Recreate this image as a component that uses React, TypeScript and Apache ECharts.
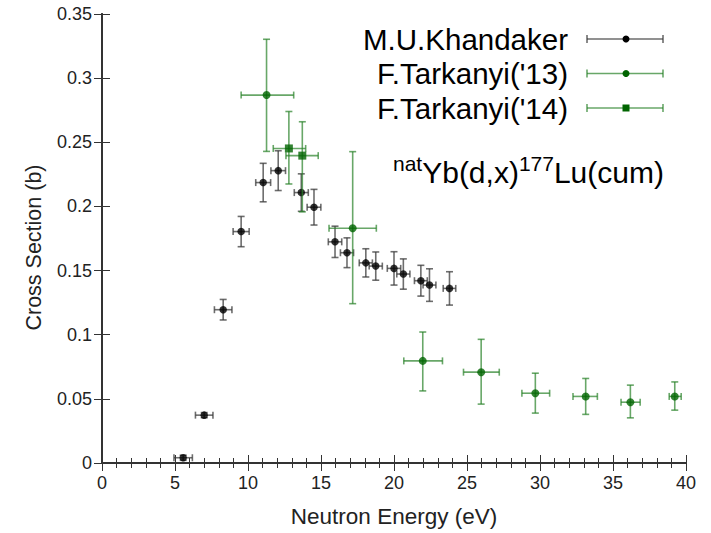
import React, { useEffect, useRef } from "react";
import * as echarts from "echarts";

// M.U.Khandaker
const khX = [5.56, 7.0, 8.3, 9.53, 11.04, 12.07, 13.65, 14.52, 15.96, 16.78, 18.07, 18.75, 20.0, 20.64, 21.84, 22.43, 23.8];
const khY = [0.0041, 0.0373, 0.1195, 0.1804, 0.2186, 0.2279, 0.2108, 0.1994, 0.1724, 0.1639, 0.156, 0.1535, 0.1517, 0.1473, 0.1421, 0.1387, 0.1361];
const khXErr = [0.63, 0.6, 0.6, 0.55, 0.51, 0.5, 0.48, 0.47, 0.46, 0.45, 0.45, 0.45, 0.46, 0.45, 0.44, 0.44, 0.43];
const khYErr = [0.002, 0.002, 0.008, 0.0118, 0.015, 0.0155, 0.0146, 0.0139, 0.0122, 0.0116, 0.011, 0.011, 0.013, 0.0118, 0.012, 0.0127, 0.013];

// F.Tarkanyi('13)
const t13X = [11.27, 17.17, 21.97, 25.97, 29.68, 33.13, 36.19, 39.23];
const t13Y = [0.2868, 0.183, 0.0796, 0.0708, 0.0544, 0.0519, 0.0474, 0.0519];
const t13XLo = [9.53, 15.55, 20.67, 24.76, 28.76, 32.26, 35.55, 38.85];
const t13XHi = [13.13, 18.79, 23.32, 27.21, 30.66, 33.93, 36.86, 39.67];
const t13YLo = [0.2429, 0.1242, 0.0562, 0.0459, 0.0389, 0.0379, 0.0352, 0.0412];
const t13YHi = [0.3303, 0.2427, 0.1021, 0.0964, 0.07, 0.0659, 0.0607, 0.0632];

// F.Tarkanyi('14)
const t14X = [12.8, 13.72];
const t14Y = [0.2452, 0.2396];
const t14XLo = [11.73, 12.6];
const t14XHi = [13.95, 14.81];
const t14YLo = [0.2175, 0.1958];
const t14YHi = [0.274, 0.266];

const seriesNames = ["M.U.Khandaker", "F.Tarkanyi('13)", "F.Tarkanyi('14)"];
const xTicks = { min: 0, max: 40, interval: 5 };
const yTicks = { min: 0, max: 0.35, interval: 0.05 };

const FONT = "Liberation Sans, Arial, sans-serif";
const BLACK = "#000000";
const BLACK_BAR = "rgba(60,60,60,0.75)";
const GREEN = "#006400";
const GREEN_BAR = "rgba(40,130,40,0.7)";

function errRows(x: number[], y: number[], xlo: number[], xhi: number[], ylo: number[], yhi: number[]) {
  return x.map((v, i) => [v, y[i], xlo[i], xhi[i], ylo[i], yhi[i]]);
}

const khRows = errRows(
  khX,
  khY,
  khX.map((v, i) => v - khXErr[i]),
  khX.map((v, i) => v + khXErr[i]),
  khY.map((v, i) => v - khYErr[i]),
  khY.map((v, i) => v + khYErr[i])
);
const t13Rows = errRows(t13X, t13Y, t13XLo, t13XHi, t13YLo, t13YHi);
const t14Rows = errRows(t14X, t14Y, t14XLo, t14XHi, t14YLo, t14YHi);

function makeErrRender(color: string) {
  return (params: any, api: any) => {
    const xlo = api.value(2), xhi = api.value(3), ylo = api.value(4), yhi = api.value(5);
    const x = api.value(0), y = api.value(1);
    const pL = api.coord([xlo, y]);
    const pR = api.coord([xhi, y]);
    const pB = api.coord([x, ylo]);
    const pT = api.coord([x, yhi]);
    const c = 3.5;
    const style = { stroke: color, lineWidth: 1.6, fill: null };
    return {
      type: "group",
      children: [
        { type: "line", shape: { x1: pL[0], y1: pL[1], x2: pR[0], y2: pR[1] }, style },
        { type: "line", shape: { x1: pB[0], y1: pB[1], x2: pT[0], y2: pT[1] }, style },
        { type: "line", shape: { x1: pL[0], y1: pL[1] - c, x2: pL[0], y2: pL[1] + c }, style },
        { type: "line", shape: { x1: pR[0], y1: pR[1] - c, x2: pR[0], y2: pR[1] + c }, style },
        { type: "line", shape: { x1: pB[0] - c, y1: pB[1], x2: pB[0] + c, y2: pB[1] }, style },
        { type: "line", shape: { x1: pT[0] - c, y1: pT[1], x2: pT[0] + c, y2: pT[1] }, style },
      ],
    };
  };
}

function legendRow(y: number, label: string, barColor: string, markColor: string, square: boolean) {
  const x1 = 587, x2 = 663, xm = 626, c = 4;
  const st = { stroke: barColor, lineWidth: 1.6 };
  return [
    { type: "text", x: 568, y, style: { text: label, fontFamily: FONT, fontSize: 29.5, fill: "#000", align: "right", verticalAlign: "middle" } },
    { type: "line", shape: { x1, y1: y, x2, y2: y }, style: st },
    { type: "line", shape: { x1, y1: y - c, x2: x1, y2: y + c }, style: st },
    { type: "line", shape: { x1: x2, y1: y - c, x2, y2: y + c }, style: st },
    square
      ? { type: "rect", shape: { x: xm - 3.5, y: y - 3.5, width: 7, height: 7 }, style: { fill: markColor } }
      : { type: "circle", shape: { cx: xm, cy: y, r: 3.5 }, style: { fill: markColor } },
  ];
}

export default function App() {
  const ref = useRef<HTMLDivElement>(null);
  useEffect(() => {
    if (!ref.current) return;
    const chart = echarts.init(ref.current, null, { renderer: "svg" });
    const axisLine = { show: true, lineStyle: { color: "#333", width: 2 } };
    const option: any = {
      animation: false,
      backgroundColor: "#fff",
      grid: { left: 102, right: 25, top: 14, bottom: 69, containLabel: false },
      xAxis: [
        {
          type: "value",
          position: "bottom",
          ...xTicks,
          name: "Neutron Energy (eV)",
          nameLocation: "middle",
          nameGap: 42,
          nameTextStyle: { fontFamily: FONT, fontSize: 22.5, color: "#222" },
          axisLine,
          axisTick: { show: true, inside: true, length: 8, lineStyle: { color: "#333", width: 1 } },
          minorTick: { show: true, splitNumber: 5, length: 5, lineStyle: { color: "#333", width: 1 } },
          axisLabel: { fontFamily: FONT, fontSize: 18, color: "#222", margin: 11 },
          splitLine: { show: false },
        },
        {
          type: "value",
          position: "top",
          ...xTicks,
          axisLine,
          axisTick: { show: true, inside: true, length: 8, lineStyle: { color: "#333", width: 1 } },
          minorTick: { show: true, splitNumber: 5, length: 5, lineStyle: { color: "#333", width: 1 } },
          axisLabel: { show: false },
          splitLine: { show: false },
        },
      ],
      yAxis: [
        {
          type: "value",
          position: "left",
          ...yTicks,
          name: "Cross Section (b)",
          nameLocation: "middle",
          nameGap: 57,
          nameTextStyle: { fontFamily: FONT, fontSize: 21.5, color: "#222", padding: [0, 18, 0, 0] },
          axisLine,
          axisTick: { show: true, inside: true, length: 8, lineStyle: { color: "#333", width: 1 } },
          axisLabel: { fontFamily: FONT, fontSize: 18, color: "#222", margin: 10 },
          splitLine: { show: false },
        },
        {
          type: "value",
          position: "right",
          ...yTicks,
          axisLine,
          axisTick: { show: true, inside: true, length: 8, lineStyle: { color: "#333", width: 1 } },
          axisLabel: { show: false },
          splitLine: { show: false },
        },
      ],
      series: [
        {
          name: seriesNames[0] + " err",
          type: "custom",
          renderItem: makeErrRender(BLACK_BAR),
          data: khRows,
          encode: { x: [0, 2, 3], y: [1, 4, 5] },
          z: 2,
        },
        {
          name: seriesNames[0],
          type: "scatter",
          data: khRows.map((r) => [r[0], r[1]]),
          symbol: "circle",
          symbolSize: 7.5,
          itemStyle: { color: BLACK },
          z: 3,
        },
        {
          name: seriesNames[1] + " err",
          type: "custom",
          renderItem: makeErrRender(GREEN_BAR),
          data: t13Rows,
          encode: { x: [0, 2, 3], y: [1, 4, 5] },
          z: 4,
        },
        {
          name: seriesNames[1],
          type: "scatter",
          data: t13Rows.map((r) => [r[0], r[1]]),
          symbol: "circle",
          symbolSize: 8,
          itemStyle: { color: GREEN },
          z: 5,
        },
        {
          name: seriesNames[2] + " err",
          type: "custom",
          renderItem: makeErrRender(GREEN_BAR),
          data: t14Rows,
          encode: { x: [0, 2, 3], y: [1, 4, 5] },
          z: 4,
        },
        {
          name: seriesNames[2],
          type: "scatter",
          data: t14Rows.map((r) => [r[0], r[1]]),
          symbol: "rect",
          symbolSize: 8,
          itemStyle: { color: GREEN },
          z: 5,
        },
      ],
      graphic: [
        ...legendRow(39, seriesNames[0], BLACK_BAR, BLACK, false),
        ...legendRow(73.5, seriesNames[1], GREEN_BAR, GREEN, false),
        ...legendRow(108, seriesNames[2], GREEN_BAR, GREEN, true),
        {
          type: "text",
          x: 393,
          y: 153,
          style: {
            text: "{s|nat}{m|Yb(d,x)}{s|177}{m|Lu(cum)}",
            fontFamily: FONT,
            fill: "#000",
            rich: {
              s: { fontFamily: FONT, fontSize: 21, lineHeight: 21, verticalAlign: "top", fill: "#000" },
              m: { fontFamily: FONT, fontSize: 30, lineHeight: 34, verticalAlign: "bottom", fill: "#000" },
            },
          },
        },
      ],
    };
    chart.setOption(option);
    return () => chart.dispose();
  }, []);
  return <div ref={ref} style={{ position: "fixed", left: 0, top: 0, width: 711, height: 533 }} />;
}
